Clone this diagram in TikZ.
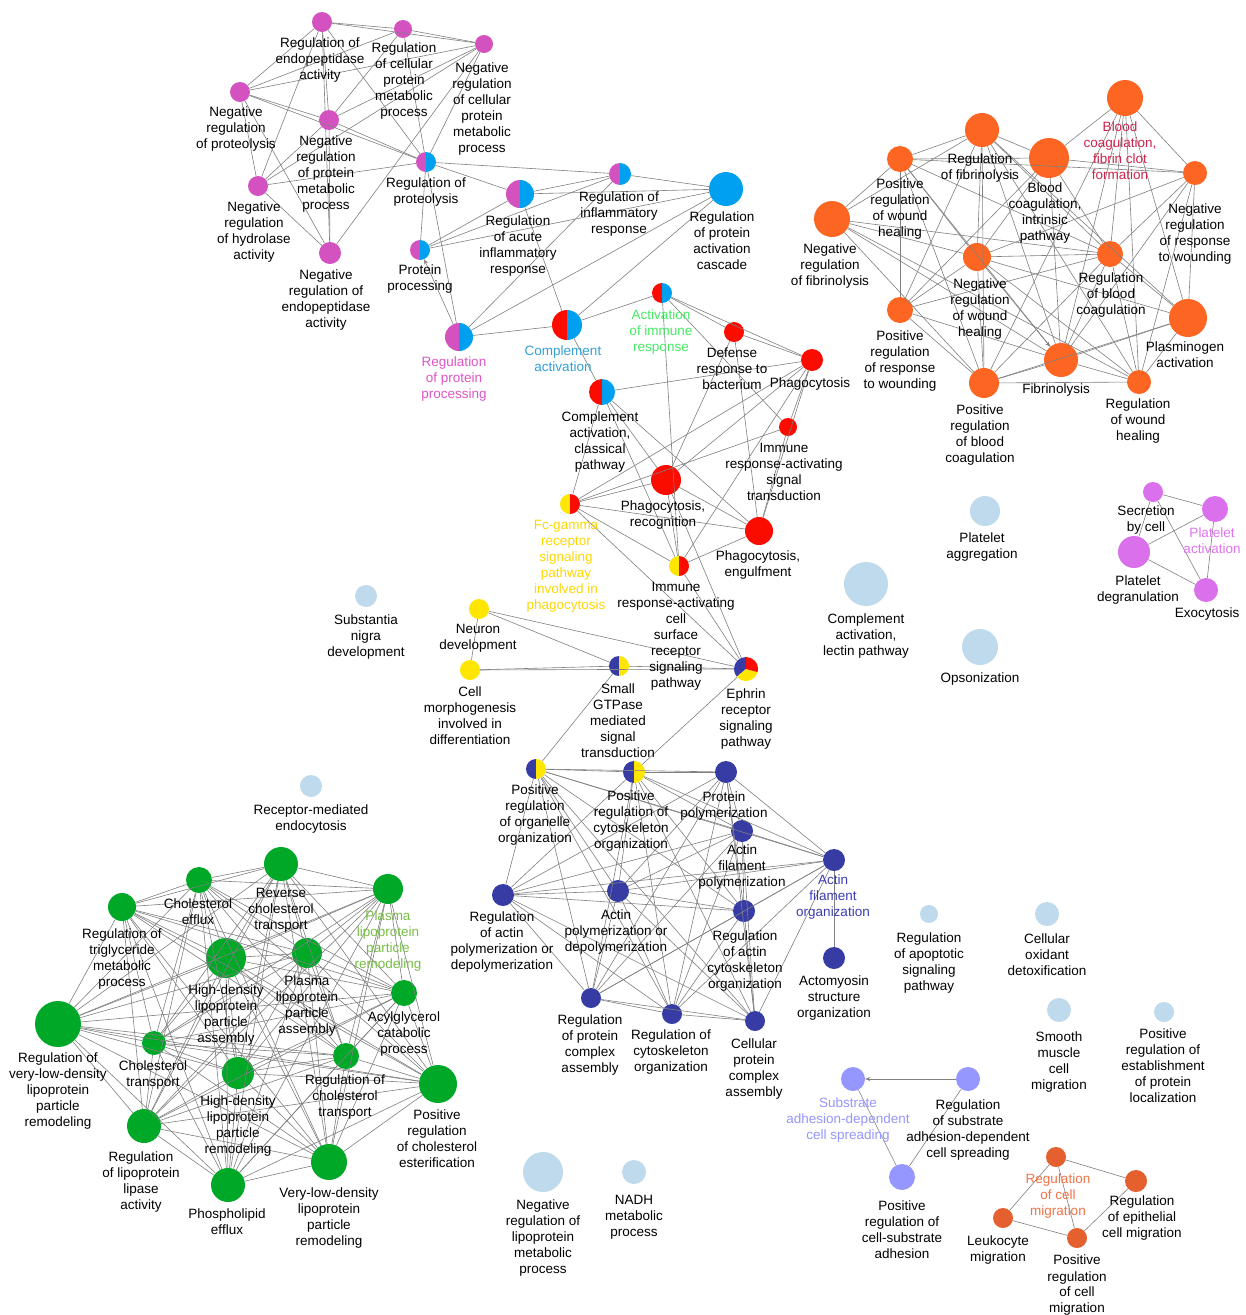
\documentclass[tikz,border=0pt]{standalone}
\usepackage{fontspec}
\setmainfont{Liberation Sans}
\usetikzlibrary{arrows.meta}
\definecolor{cpink}{RGB}{212,82,192}
\definecolor{cblue}{RGB}{0,160,240}
\definecolor{cred}{RGB}{250,12,0}
\definecolor{corange}{RGB}{252,102,34}
\definecolor{cyellow}{RGB}{255,230,0}
\definecolor{cnavy}{RGB}{55,60,165}
\definecolor{cgreen}{RGB}{0,168,40}
\definecolor{clblue}{RGB}{190,218,236}
\definecolor{cviolet}{RGB}{218,112,236}
\definecolor{cperi}{RGB}{150,150,255}
\definecolor{cmig}{RGB}{228,96,46}
\definecolor{cedge}{RGB}{128,128,128}
\definecolor{tcrimson}{RGB}{205,35,75}
\definecolor{tgreen}{RGB}{70,235,100}
\definecolor{tblue}{RGB}{50,160,215}
\definecolor{tpink}{RGB}{220,85,200}
\definecolor{tyellow}{RGB}{255,215,0}
\definecolor{tlgreen}{RGB}{120,190,70}
\definecolor{tnavy}{RGB}{60,60,180}
\definecolor{tviolet}{RGB}{225,115,240}
\definecolor{tperi}{RGB}{150,150,255}
\definecolor{torange}{RGB}{240,115,70}
\newcommand\nd[5]{\node[circle,fill=#5,inner sep=0pt,minimum size={2*#4}] (#1) at (#2,-#3) {};}
\newcommand\hn[6]{\node[circle,inner sep=0pt,minimum size={2*#4}] (#1) at (#2,-#3) {};
  \fill[#5] (#2,{-#3+#4}) arc (90:270:#4) -- cycle;
  \fill[#6] (#2,{-#3-#4}) arc (-90:90:#4) -- cycle;}
\newcommand\lb[5]{\node[lbl,text=#4,anchor=north] (#1) at (#2,{-#3+4}) {#5};}
\tikzset{edge/.style={draw=cedge,line width=0.6pt},
  lbl/.style={font=\fontsize{13.5}{16}\selectfont,align=center,inner sep=0pt}}
\begin{document}
\begin{tikzpicture}[x=1pt,y=1pt]
\fill[white] (0,0) rectangle (1246,-1315);
\useasboundingbox (0,0) rectangle (1246,-1315);
% ---------------- nodes
\nd{pEndo}{322}{22}{10}{cpink}
\nd{pCell}{403}{29}{9}{cpink}
\nd{pNegCell}{484}{44}{9}{cpink}
\nd{pNegProt}{240}{92}{10}{cpink}
\nd{pNegPM}{329}{120}{10}{cpink}
\nd{pNegHyd}{258}{186}{10}{cpink}
\nd{pNegEndo}{330}{253}{11}{cpink}
\hn{pbRegProt}{426}{162}{10}{cpink}{cblue}
\hn{pbAcute}{520}{194}{14}{cpink}{cblue}
\hn{pbInflam}{620}{174}{11}{cpink}{cblue}
\nd{bCascade}{726}{189}{17}{cblue}
\hn{pbProcs}{420}{250}{10}{cpink}{cblue}
\hn{pbRegPP}{459}{337}{14}{cpink}{cblue}
\hn{rbCompl}{567}{325}{15}{cred}{cblue}
\hn{rbActImm}{662}{293}{10}{cred}{cblue}
\nd{rDefense}{734}{332}{10}{cred}
\nd{rPhago}{812}{360}{11}{cred}
\hn{rbClassic}{602}{392}{13}{cred}{cblue}
\nd{rIRAST}{788}{427}{9}{cred}
\nd{rRecog}{666}{480}{15}{cred}
\nd{rEngulf}{759}{531}{14}{cred}
\hn{yrFcg}{570}{504}{10}{cyellow}{cred}
\hn{yrIRCS}{679}{566}{10}{cyellow}{cred}
\nd{yNeuron}{479}{609}{10}{cyellow}
\nd{yCellMorph}{470}{670}{10}{cyellow}
\hn{nySmall}{619}{666}{10}{cnavy}{cyellow}
\node[circle,inner sep=0pt,minimum size=24] (nyEphrin) at (746,-669) {};
\fill[cnavy] (746,-669) -- ++(90:12) arc (90:220:12) -- cycle;
\fill[cyellow] (746,-669) -- ++(220:12) arc (220:345:12) -- cycle;
\fill[cred] (746,-669) -- ++(345:12) arc (345:450:12) -- cycle;
\hn{nyPosOrg}{536}{769}{10}{cnavy}{cyellow}
\hn{nyPosCyto}{634}{772}{11}{cnavy}{cyellow}
\nd{nProtPoly}{726}{772}{11}{cnavy}
\nd{nAFPoly}{742}{831}{11}{cnavy}
\nd{nAFOrg}{834}{860}{11}{cnavy}
\nd{nRegActPoly}{503}{895}{11}{cnavy}
\nd{nActPoly}{618}{891}{11}{cnavy}
\nd{nRegActCyto}{744}{911}{11}{cnavy}
\nd{nActomyo}{834}{958}{11}{cnavy}
\nd{nRegPCx}{591}{998}{10}{cnavy}
\nd{nRegCyto}{672}{1014}{10}{cnavy}
\nd{nCellPCx}{755}{1021}{10}{cnavy}
% orange
\nd{oRegFib}{982}{130}{17}{corange}
\nd{oBCFC}{1125}{98}{18}{corange}
\nd{oPosW}{900}{159}{13}{corange}
\nd{oBCIntr}{1049}{158}{20}{corange}
\nd{oNegResW}{1195}{173}{12}{corange}
\nd{oNegFib}{832}{219}{18}{corange}
\nd{oNegWH}{977}{257}{14}{corange}
\nd{oRegBC}{1110}{254}{13}{corange}
\nd{oPlasm}{1188}{318}{19}{corange}
\nd{oPosResW}{900}{310}{13}{corange}
\nd{oFibrin}{1061}{360}{17}{corange}
\nd{oPosBC}{984}{383}{15}{corange}
\nd{oRegWH}{1139}{382}{12}{corange}
% light blue
\nd{lbPlAgg}{985}{511}{15}{clblue}
\nd{lbLectin}{866}{584}{22}{clblue}
\nd{lbOpson}{980}{647}{18}{clblue}
\nd{lbNigra}{366}{596}{11}{clblue}
\nd{lbEndocyt}{311}{786}{11}{clblue}
\nd{lbApopt}{929}{914}{9}{clblue}
\nd{lbOxid}{1047}{914}{12}{clblue}
\nd{lbSmooth}{1059}{1010}{12}{clblue}
\nd{lbEstab}{1164}{1012}{10}{clblue}
\nd{lbNegLipo}{543}{1172}{20}{clblue}
\nd{lbNADH}{634}{1172}{12}{clblue}
% violet
\nd{vSecr}{1153}{492}{10}{cviolet}
\nd{vPlAct}{1215}{509}{13}{cviolet}
\nd{vPlDegr}{1134}{552}{16}{cviolet}
\nd{vExo}{1206}{590}{12}{cviolet}
% periwinkle
\nd{sSubst}{853}{1079}{12}{cperi}
\nd{sRegSub}{968}{1079}{12}{cperi}
\nd{sPosCS}{902}{1177}{13}{cperi}
% migration
\nd{mRegCM}{1056}{1157}{10}{cmig}
\nd{mRegEpi}{1136}{1181}{11}{cmig}
\nd{mLeuko}{1003}{1218}{10}{cmig}
\nd{mPosCM}{1077}{1238}{10}{cmig}
% green
\nd{gCholEff}{199}{880}{13}{cgreen}
\nd{gRevChol}{281}{864}{17}{cgreen}
\nd{gPlRemod}{388}{889}{15}{cgreen}
\nd{gRegTri}{122}{907}{14}{cgreen}
\nd{gHDLAsm}{226}{958}{20}{cgreen}
\nd{gPlAsm}{307}{953}{15}{cgreen}
\nd{gAcyl}{404}{993}{13}{cgreen}
\nd{gVLDLReg}{58}{1024}{23}{cgreen}
\nd{gCholTr}{154}{1043}{12}{cgreen}
\nd{gRegCholTr}{346}{1056}{13}{cgreen}
\nd{gHDLRemod}{238}{1073}{16}{cgreen}
\nd{gPosChol}{438}{1084}{19}{cgreen}
\nd{gRegLPL}{144}{1126}{17}{cgreen}
\nd{gPhosph}{228}{1185}{17}{cgreen}
\nd{gVLDLRemod}{329}{1162}{18}{cgreen}
% ---------------- edges
\foreach \a/\b in {pEndo/pCell, pEndo/pNegCell, pCell/pNegCell, pEndo/pNegProt, pEndo/pNegPM, pEndo/pbRegProt, pEndo/pNegHyd, pEndo/pNegEndo, pCell/pNegProt, pCell/pNegPM, pCell/pbRegProt, pNegCell/pNegProt, pNegCell/pNegPM, pNegCell/pNegHyd, pNegCell/pNegEndo, pNegCell/pbRegProt, pNegProt/pNegPM, pNegProt/pbRegProt, pNegProt/pNegHyd, pNegProt/pNegEndo, pNegPM/pbRegProt, pNegPM/pNegHyd, pNegPM/pNegEndo, pNegHyd/pbRegProt, pNegHyd/pNegEndo, pbRegProt/pbAcute, pbRegProt/pbInflam, pbRegProt/pbProcs, pbRegProt/pbRegPP, pbAcute/pbInflam, pbAcute/bCascade, pbAcute/pbProcs, pbAcute/rbCompl, pbInflam/bCascade, pbInflam/pbProcs, pbInflam/pbRegPP, bCascade/pbProcs, bCascade/pbRegPP, bCascade/rbCompl, pbRegPP/rbCompl, rbCompl/rbActImm, rbCompl/rbClassic, rbActImm/rDefense, rbActImm/rPhago, rbActImm/rIRAST, rbActImm/yrIRCS, rDefense/rPhago, rDefense/rRecog, rDefense/rEngulf, rbClassic/rPhago, rbClassic/yrFcg, rbClassic/rRecog, rbClassic/rEngulf, rbClassic/yrIRCS, rPhago/rRecog, rPhago/yrFcg, rPhago/rIRAST, rPhago/rEngulf, rPhago/yrIRCS, rIRAST/yrFcg, rIRAST/rEngulf, rRecog/yrFcg, rRecog/yrIRCS, rRecog/rEngulf, yrFcg/rEngulf, yrFcg/yrIRCS, rEngulf/yrIRCS, yrFcg/nyEphrin, rRecog/nyEphrin, yrIRCS/nyEphrin,
  yNeuron/yCellMorph, yNeuron/nySmall, yNeuron/nyEphrin, yCellMorph/nySmall, yCellMorph/nyEphrin, nySmall/nyEphrin, nySmall/nyPosOrg, nyEphrin/nyPosCyto, nAFOrg/nActomyo,
  oBCFC/oBCIntr, oBCFC/oNegResW, oBCFC/oFibrin, oBCFC/oRegBC, oBCFC/oRegWH, oBCFC/oPosBC, oBCFC/oPlasm, oRegFib/oPosW, oRegFib/oBCIntr, oRegFib/oNegFib, oRegFib/oNegWH, oRegFib/oPosBC, oRegFib/oPosResW, oRegFib/oRegBC, oRegFib/oFibrin, oRegFib/oRegWH, oRegFib/oPlasm, oPosW/oNegResW, oPosW/oNegFib, oPosW/oNegWH, oPosW/oPosResW, oPosW/oRegBC, oPosW/oFibrin, oPosW/oBCIntr, oPosW/oPosBC, oNegFib/oNegWH, oNegFib/oRegBC, oNegFib/oFibrin, oNegFib/oPosBC, oNegFib/oRegWH, oBCIntr/oNegWH, oBCIntr/oRegBC, oBCIntr/oNegResW, oBCIntr/oPosResW, oBCIntr/oFibrin, oNegWH/oRegBC, oNegWH/oPosBC, oNegWH/oRegWH, oNegWH/oPlasm, oNegWH/oNegResW, oNegWH/oPosResW, oRegBC/oPosResW, oRegBC/oPlasm, oRegBC/oFibrin, oRegBC/oPosBC, oRegBC/oNegResW, oRegBC/oRegWH, oNegResW/oPlasm, oNegResW/oFibrin, oNegResW/oRegWH, oPlasm/oFibrin, oPlasm/oPosBC, oPlasm/oRegWH, oPosResW/oFibrin, oPosResW/oPosBC, oPosBC/oFibrin, oPosBC/oRegWH, oFibrin/oRegWH,
  vSecr/vPlAct, vSecr/vPlDegr, vSecr/vExo, vPlAct/vPlDegr, vPlAct/vExo, vPlDegr/vExo,
  sSubst/sPosCS, sRegSub/sPosCS,
  mRegCM/mRegEpi, mRegCM/mLeuko, mRegCM/mPosCM, mLeuko/mPosCM, mRegEpi/mPosCM}
  {\draw[edge] (\a) -- (\b);}
\draw[edge,-{Stealth[length=5pt,width=4pt]}] (pbRegPP) -- (pbProcs);
\draw[edge,-{Stealth[length=5pt,width=4pt]}] (sRegSub) -- (sSubst);
\draw[edge,-{Stealth[length=5pt,width=4pt]}] (oNegWH) -- (oFibrin);
\foreach \a [count=\i] in {nyPosOrg,nyPosCyto,nProtPoly,nAFPoly,nAFOrg,nRegActPoly,nActPoly,nRegActCyto,nRegPCx,nRegCyto,nCellPCx}
 {\foreach \b [count=\j] in {nyPosOrg,nyPosCyto,nProtPoly,nAFPoly,nAFOrg,nRegActPoly,nActPoly,nRegActCyto,nRegPCx,nRegCyto,nCellPCx}
  {\ifnum\i<\j \draw[edge] (\a) -- (\b);\fi}}
\foreach \a [count=\i] in {gCholEff,gRevChol,gPlRemod,gRegTri,gHDLAsm,gPlAsm,gAcyl,gVLDLReg,gCholTr,gRegCholTr,gHDLRemod,gPosChol,gRegLPL,gPhosph,gVLDLRemod}
 {\foreach \b [count=\j] in {gCholEff,gRevChol,gPlRemod,gRegTri,gHDLAsm,gPlAsm,gAcyl,gVLDLReg,gCholTr,gRegCholTr,gHDLRemod,gPosChol,gRegLPL,gPhosph,gVLDLRemod}
  {\ifnum\i<\j \draw[edge] (\a) -- (\b);\fi}}
% ---------------- labels
\lb{lpEndo}{320}{42}{black}{Regulation of\\endopeptidase\\activity}
\lb{lpCell}{404}{47}{black}{Regulation\\of cellular\\protein\\metabolic\\process}
\lb{lpNegCell}{482}{67}{black}{Negative\\regulation\\of cellular\\protein\\metabolic\\process}
\lb{lpNegProt}{236}{111}{black}{Negative\\regulation\\of proteolysis}
\lb{lpNegPM}{326}{140}{black}{Negative\\regulation\\of protein\\metabolic\\process}
\lb{lpNegHyd}{254}{206}{black}{Negative\\regulation\\of hydrolase\\activity}
\lb{lpNegEndo}{326}{274}{black}{Negative\\regulation of\\endopeptidase\\activity}
\lb{lpbRegProt}{426}{182}{black}{Regulation of\\proteolysis}
\lb{lpbAcute}{518}{220}{black}{Regulation\\of acute\\inflammatory\\response}
\lb{lpbInflam}{619}{196}{black}{Regulation of\\inflammatory\\response}
\lb{lbCascade}{722}{216}{black}{Regulation\\of protein\\activation\\cascade}
\lb{lpbProcs}{420}{269}{black}{Protein\\processing}
\lb{lpbRegPP}{454}{361}{tpink}{Regulation\\of protein\\processing}
\lb{lrbCompl}{563}{350}{tblue}{Complement\\activation}
\lb{lrbActImm}{661}{314}{tgreen}{Activation\\of immune\\response}
\lb{lrDefense}{732}{352}{black}{Defense\\response to\\bacterium}
\lb{lrPhago}{810}{382}{black}{Phagocytosis}
\lb{lrbClassic}{600}{416}{black}{Complement\\activation,\\classical\\pathway}
\lb{lrIRAST}{784}{447}{black}{Immune\\response-activating\\signal\\transduction}
\lb{lrRecog}{663}{505}{black}{Phagocytosis,\\recognition}
\lb{lrEngulf}{758}{555}{black}{Phagocytosis,\\engulfment}
\lb{lyrFcg}{566}{524}{tyellow}{Fc-gamma\\receptor\\signaling\\pathway\\involved in\\phagocytosis}
\lb{lyrIRCS}{676}{586}{black}{Immune\\response-activating\\cell\\surface\\receptor\\signaling\\pathway}
\lb{lyNeuron}{478}{628}{black}{Neuron\\development}
\lb{lyCellMorph}{470}{691}{black}{Cell\\morphogenesis\\involved in\\differentiation}
\lb{lnySmall}{618}{688}{black}{Small\\GTPase\\mediated\\signal\\transduction}
\lb{lnyEphrin}{746}{693}{black}{Ephrin\\receptor\\signaling\\pathway}
\lb{lnyPosOrg}{535}{789}{black}{Positive\\regulation\\of organelle\\organization}
\lb{lnyPosCyto}{631}{795}{black}{Positive\\regulation of\\cytoskeleton\\organization}
\lb{lnProtPoly}{724}{796}{black}{Protein\\polymerization}
\lb{lnAFPoly}{742}{849}{black}{Actin\\filament\\polymerization}
\lb{lnAFOrg}{833}{879}{tnavy}{Actin\\filament\\organization}
\lb{lnRegActPoly}{502}{916}{black}{Regulation\\of actin\\polymerization or\\depolymerization}
\lb{lnActPoly}{616}{914}{black}{Actin\\polymerization or\\depolymerization}
\lb{lnRegActCyto}{745}{935}{black}{Regulation\\of actin\\cytoskeleton\\organization}
\lb{lnActomyo}{834}{980}{black}{Actomyosin\\structure\\organization}
\lb{lnRegPCx}{590}{1019}{black}{Regulation\\of protein\\complex\\assembly}
\lb{lnRegCyto}{671}{1034}{black}{Regulation of\\cytoskeleton\\organization}
\lb{lnCellPCx}{754}{1043}{black}{Cellular\\protein\\complex\\assembly}
\lb{loRegFib}{980}{158}{black}{Regulation\\of fibrinolysis}
\lb{loBCFC}{1120}{126}{tcrimson}{Blood\\coagulation,\\fibrin clot\\formation}
\lb{loPosW}{900}{183}{black}{Positive\\regulation\\of wound\\healing}
\lb{loBCIntr}{1045}{187}{black}{Blood\\coagulation,\\intrinsic\\pathway}
\lb{loNegResW}{1195}{208}{black}{Negative\\regulation\\of response\\to wounding}
\lb{loNegFib}{830}{248}{black}{Negative\\regulation\\of fibrinolysis}
\lb{loNegWH}{980}{283}{black}{Negative\\regulation\\of wound\\healing}
\lb{loRegBC}{1111}{277}{black}{Regulation\\of blood\\coagulation}
\lb{loPlasm}{1185}{346}{black}{Plasminogen\\activation}
\lb{loPosResW}{900}{335}{black}{Positive\\regulation\\of response\\to wounding}
\lb{loFibrin}{1056}{388}{black}{Fibrinolysis}
\lb{loPosBC}{980}{409}{black}{Positive\\regulation\\of blood\\coagulation}
\lb{loRegWH}{1138}{403}{black}{Regulation\\of wound\\healing}
\lb{llbPlAgg}{982}{537}{black}{Platelet\\aggregation}
\lb{llbLectin}{866}{618}{black}{Complement\\activation,\\lectin pathway}
\lb{llbOpson}{980}{677}{black}{Opsonization}
\lb{llbNigra}{366}{619}{black}{Substantia\\nigra\\development}
\lb{llbEndocyt}{311}{809}{black}{Receptor-mediated\\endocytosis}
\lb{llbApopt}{929}{937}{black}{Regulation\\of apoptotic\\signaling\\pathway}
\lb{llbOxid}{1047}{938}{black}{Cellular\\oxidant\\detoxification}
\lb{llbSmooth}{1059}{1036}{black}{Smooth\\muscle\\cell\\migration}
\lb{llbEstab}{1163}{1033}{black}{Positive\\regulation of\\establishment\\of protein\\localization}
\lb{llbNegLipo}{543}{1204}{black}{Negative\\regulation of\\lipoprotein\\metabolic\\process}
\lb{llbNADH}{634}{1199}{black}{NADH\\metabolic\\process}
\lb{lvSecr}{1146}{510}{black}{Secretion\\by cell}
\lb{lvPlAct}{1212}{532}{tviolet}{Platelet\\activation}
\lb{lvPlDegr}{1138}{580}{black}{Platelet\\degranulation}
\lb{lvExo}{1207}{612}{black}{Exocytosis}
\lb{lsSubst}{848}{1102}{tperi}{Substrate\\adhesion-dependent\\cell spreading}
\lb{lsRegSub}{968}{1104}{black}{Regulation\\of substrate\\adhesion-dependent\\cell spreading}
\lb{lsPosCS}{902}{1205}{black}{Positive\\regulation of\\cell-substrate\\adhesion}
\lb{lmRegCM}{1058}{1178}{torange}{Regulation\\of cell\\migration}
\lb{lmRegEpi}{1142}{1200}{black}{Regulation\\of epithelial\\cell migration}
\lb{lmLeuko}{998}{1240}{black}{Leukocyte\\migration}
\lb{lmPosCM}{1077}{1259}{black}{Positive\\regulation\\of cell\\migration}
\lb{lgCholEff}{198}{903}{black}{Cholesterol\\efflux}
\lb{lgRevChol}{281}{892}{black}{Reverse\\cholesterol\\transport}
\lb{lgPlRemod}{388}{915}{tlgreen}{Plasma\\lipoprotein\\particle\\remodeling}
\lb{lgRegTri}{122}{933}{black}{Regulation of\\triglyceride\\metabolic\\process}
\lb{lgHDLAsm}{226}{989}{black}{High-density\\lipoprotein\\particle\\assembly}
\lb{lgPlAsm}{307}{980}{black}{Plasma\\lipoprotein\\particle\\assembly}
\lb{lgAcyl}{404}{1016}{black}{Acylglycerol\\catabolic\\process}
\lb{lgVLDLReg}{58}{1057}{black}{Regulation of\\very-low-density\\lipoprotein\\particle\\remodeling}
\lb{lgCholTr}{153}{1065}{black}{Cholesterol\\transport}
\lb{lgRegCholTr}{345}{1079}{black}{Regulation of\\cholesterol\\transport}
\lb{lgHDLRemod}{238}{1100}{black}{High-density\\lipoprotein\\particle\\remodeling}
\lb{lgPosChol}{437}{1114}{black}{Positive\\regulation\\of cholesterol\\esterification}
\lb{lgRegLPL}{141}{1156}{black}{Regulation\\of lipoprotein\\lipase\\activity}
\lb{lgPhosph}{227}{1213}{black}{Phospholipid\\efflux}
\lb{lgVLDLRemod}{329}{1192}{black}{Very-low-density\\lipoprotein\\particle\\remodeling}
\end{tikzpicture}
\end{document}
